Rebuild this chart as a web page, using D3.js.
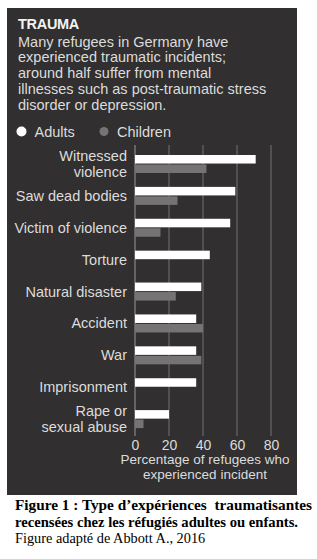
<!DOCTYPE html>
<html><head><meta charset="utf-8">
<script src="https://cdn.jsdelivr.net/npm/d3@7"></script>
<style>html,body{margin:0;padding:0;background:#fff;}svg{display:block;}</style>
</head><body>
<svg id="c" width="317" height="559"></svg>
<script>
const categories = ["Witnessed violence","Saw dead bodies","Victim of violence","Torture","Natural disaster","Accident","War","Imprisonment","Rape or sexual abuse"];
const categoryLines = [["Witnessed","violence"],["Saw dead bodies"],["Victim of violence"],["Torture"],["Natural disaster"],["Accident"],["War"],["Imprisonment"],["Rape or","sexual abuse"]];
const adults = [71, 59, 56, 44, 39, 36, 36, 36, 20];
const children = [42, 25, 15, null, 24, 40, 39, null, 5];
const seriesNames = ["Adults","Children"];
const xTicks = [0, 20, 40, 60, 80];
const titleText = "TRAUMA";
const subtitleLines = ["Many refugees in Germany have","experienced traumatic incidents;","around half suffer from mental","illnesses such as post-traumatic stress","disorder or depression."];
const axisTitleLines = ["Percentage of refugees who","experienced incident"];
const captionBold = ["Figure 1 : Type d\u2019exp\u00e9riences  traumatisantes","recens\u00e9es chez les r\u00e9fugi\u00e9s adultes ou enfants."];
const captionNormal = "Figure adapt\u00e9 de Abbott A., 2016";

const svg = d3.select("#c");
const sans = "'Liberation Sans', Arial, sans-serif";
const serif = "'Liberation Serif', 'Times New Roman', serif";
const colAdult = "#ffffff", colChild = "#757373", panelCol = "#312f2f", textCol = "#dcdcdc";

svg.append("rect").attr("x",7).attr("y",8).attr("width",290).attr("height",487).attr("fill",panelCol);

svg.append("text").attr("x",18).attr("y",29).attr("font-family",sans).attr("font-weight","bold")
  .attr("font-size",14.5).attr("fill","#f2f2f2").attr("letter-spacing",-0.3).text(titleText);
svg.append("g").selectAll("text").data(subtitleLines).join("text")
  .attr("x",18).attr("y",(d,i)=>46.5+i*15.8).attr("font-family",sans).attr("font-size",14.5)
  .attr("fill",textCol).text(d=>d);

// legend
const leg = svg.append("g");
const legX = [21.5, 104];
seriesNames.forEach((s,i)=>{
  leg.append("circle").attr("cx",legX[i]).attr("cy",131.5).attr("r",i===0?5:4.5).attr("fill",i===0?colAdult:colChild);
  leg.append("text").attr("x",legX[i]+13).attr("y",136.5).attr("font-family",sans).attr("font-size",14.5).attr("fill",textCol).text(s);
});

const x = d3.scaleLinear().domain([0,80]).range([135,271]);
const y0 = d3.scaleBand().domain(categories).range([146,433]);
const y1 = d3.scaleBand().domain(seriesNames).range([9,27]).paddingInner(0.1);

// gridlines
svg.append("g").selectAll("line").data(xTicks).join("line")
  .attr("x1",d=>x(d)).attr("x2",d=>x(d)).attr("y1",145).attr("y2",436)
  .attr("stroke",d=>d===0?"#8a8888":"#6a6868").attr("stroke-width",1.2);

const data = categories.map((c,i)=>({c, vals:[{s:"Adults",v:adults[i]},{s:"Children",v:children[i]}]}));
const groups = svg.append("g").selectAll("g").data(data).join("g")
  .attr("transform",d=>`translate(0,${y0(d.c)})`);
groups.selectAll("rect").data(d=>d.vals.filter(v=>v.v!=null)).join("rect")
  .attr("x",x(0)).attr("y",d=>y1(d.s)).attr("width",d=>x(d.v)-x(0)).attr("height",y1.bandwidth())
  .attr("fill",d=>d.s==="Adults"?colAdult:colChild);

// category labels
svg.append("g").selectAll("text").data(categories).join("text")
  .attr("text-anchor","end").attr("font-family",sans).attr("font-size",14.5).attr("fill",textCol)
  .attr("x",127)
  .each(function(c,i){
    const lines = categoryLines[i];
    const cy = y0(c)+18;
    const t = d3.select(this);
    lines.forEach((l,j)=>{
      t.append("tspan").attr("x",127).attr("y",cy + 5 + (j-(lines.length-1)/2)*15.5).text(l);
    });
  });

// axis
const axis = svg.append("g").attr("transform","translate(0,436)")
  .call(d3.axisBottom(x).tickValues(xTicks).tickSize(0).tickPadding(4));
axis.select(".domain").remove();
axis.selectAll("text").attr("font-family",sans).attr("font-size",14).attr("fill",textCol);

svg.append("g").selectAll("text").data(axisTitleLines).join("text")
  .attr("x",205).attr("y",(d,i)=>464+i*14.5).attr("text-anchor","middle")
  .attr("font-family",sans).attr("font-size",13.5).attr("fill",textCol).text(d=>d);

// caption
const capLens = [297, 283];
svg.append("g").selectAll("text").data(captionBold).join("text")
  .attr("x",15).attr("y",(d,i)=>510+i*16.5).attr("font-family",serif).attr("font-weight","bold")
  .attr("font-size",15).attr("fill","#000").attr("xml:space","preserve").style("white-space","pre")
  .attr("textLength",(d,i)=>capLens[i]).attr("lengthAdjust","spacingAndGlyphs").text(d=>d);
svg.append("text").attr("x",15).attr("y",543).attr("font-family",serif).attr("font-size",14.3)
  .attr("fill","#000").text(captionNormal);
</script>
</body></html>
